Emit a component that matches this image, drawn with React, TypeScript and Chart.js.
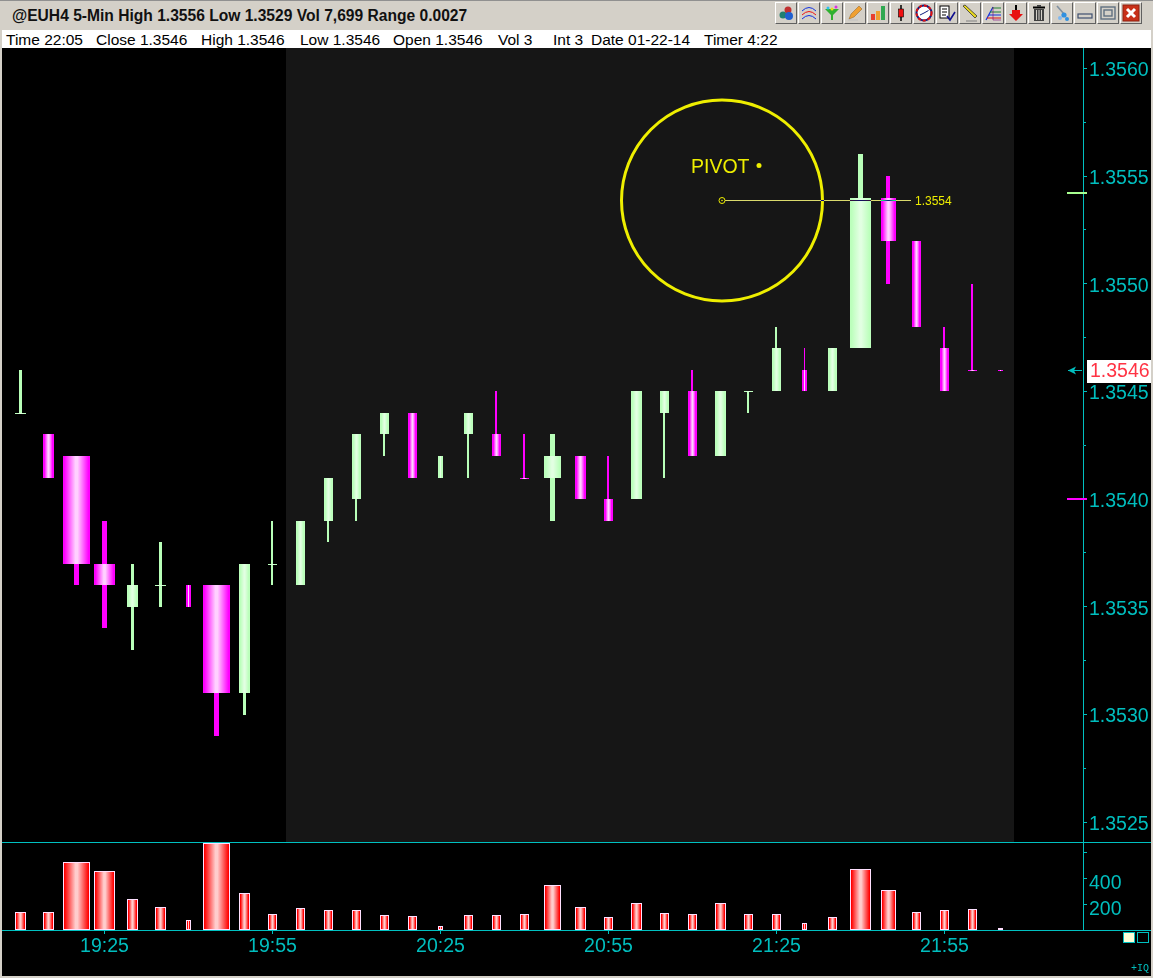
import React, { useEffect, useRef } from "react";
import { Chart, registerables } from "chart.js";

Chart.register(...registerables);

// ---- data ----
const categories = [
  "19:10","19:15","19:20","19:25","19:30","19:35","19:40","19:45","19:50","19:55","20:00","20:05",
  "20:10","20:15","20:20","20:25","20:30","20:35","20:40","20:45","20:50","20:55","21:00","21:05",
  "21:10","21:15","21:20","21:25","21:30","21:35","21:40","21:45","21:50","21:55","22:00","22:05",
];
const opens = [
  1.3544,1.3543,1.3542,1.3537,1.3535,1.3536,1.3536,1.3536,1.3531,1.3537,1.3536,1.3539,
  1.3540,1.3543,1.3544,1.3541,1.3543,1.3543,1.3541,1.3541,1.3542,1.3540,1.3540,1.3544,
  1.3545,1.3542,1.3545,1.3545,1.3546,1.3545,1.3547,1.3554,1.3552,1.3547,1.3546,1.3546,
];
const highs = [
  1.3546,1.3543,1.3542,1.3539,1.3537,1.3538,1.3536,1.3536,1.3537,1.3539,1.3539,1.3541,
  1.3543,1.3544,1.3544,1.3542,1.3544,1.3545,1.3543,1.3543,1.3542,1.3542,1.3545,1.3545,
  1.3546,1.3545,1.3545,1.3548,1.3547,1.3547,1.3556,1.3555,1.3552,1.3548,1.3550,1.3546,
];
const lows = [
  1.3544,1.3541,1.3536,1.3534,1.3533,1.3535,1.3535,1.3529,1.3530,1.3536,1.3536,1.3538,
  1.3539,1.3542,1.3541,1.3541,1.3541,1.3542,1.3541,1.3539,1.3540,1.3539,1.3540,1.3541,
  1.3542,1.3542,1.3544,1.3545,1.3545,1.3545,1.3547,1.3550,1.3548,1.3545,1.3546,1.3546,
];
const closes = [
  1.3544,1.3541,1.3537,1.3536,1.3536,1.3536,1.3535,1.3531,1.3537,1.3537,1.3539,1.3541,
  1.3543,1.3544,1.3541,1.3542,1.3544,1.3542,1.3541,1.3542,1.3540,1.3539,1.3545,1.3545,
  1.3542,1.3545,1.3545,1.3547,1.3545,1.3547,1.3554,1.3552,1.3548,1.3545,1.3546,1.3546,
];
const candleSides = [
  "up","down","down","down","up","up","down","down","up","up","up","up",
  "up","up","down","up","up","down","down","up","down","down","up","up",
  "down","up","up","up","down","up","up","down","down","down","down","down",
];
const volumes = [
  136,136,520,452,236,175,75,667,282,121,167,152,
  152,113,105,28,113,113,123,346,177,100,208,131,
  123,208,123,123,52,98,467,305,136,152,159,13,
];
const priceTickValues = [
  1.356,1.35575,1.3555,1.35525,1.355,1.35475,1.3545,1.35425,1.354,1.35375,1.3535,1.35325,1.353,1.35275,1.3525,
];
const priceTickLabels = [
  "1.3560","","1.3555","","1.3550","","1.3545","","1.3540","","1.3535","","1.3530","","1.3525",
];
const volumeTickValues = [200, 400, 600];
const volumeTickLabels = ["200", "400", ""];
const timeTickIndexes = [3, 9, 15, 21, 27, 33];
const markerLevels = [1.355425, 1.354005];
const lastPrice = 1.3546;
const lastPriceLabel = "1.3546";
const pivotLevel = 1.35539;
const pivotLabel = "1.3554";
const pivotIndex = 25.05;
const pivotEndIndex = 31.8;
const sessionStartIndex = 9.5;
const sessionEndIndex = 35.5;

// ---- styles and layout ----
const bodyWidths = [
  11,11,27,21,11,11,5,27,11,9,9,9,9,9,9,5,9,9,9,17,11,9,11,9,9,11,9,9,5,9,21,15,9,9,9,5,
];
const wickWidth = (w: number) => (w <= 5 ? 1 : w <= 9 ? 2 : w <= 11 ? 3 : w <= 15 ? 4 : 5);
const TEAL = "#00BEBE";
const GREEN_EDGE = "#BCFFBC";
const GREEN_MID = "#E2FFE2";
const MAGENTA = "#FF00FF";
const MAGENTA_MID = "#FFD0FF";
const RED = "#FF0000";
const RED_MID = "#FFCCCC";
const YELLOW = "#EEEE00";
const FONT = '"Liberation Sans", Arial, sans-serif';
const xMin = -18.5 / 28;
const xMax = (1081 - 18.5) / 28;
const FILE_W = 1149;
const PX_PER_UNIT = 215400;
const priceMax = 1.356 + 20.3 / PX_PER_UNIT;
const priceMin = priceMax - 794 / PX_PER_UNIT;

function barGradient(ctx: any, edge: string, mid: string) {
  if (ctx.type !== "data") return edge;
  const chart = ctx.chart;
  const x = chart.scales.x.getPixelForValue(ctx.dataIndex);
  // elements are first resolved before the layout has placed the scales
  if (!Number.isFinite(x)) return edge;
  const width = bodyWidths[ctx.dataIndex];
  const half = width / 2;
  const solid = Math.min(0.4, 1.5 / width);
  const g = chart.ctx.createLinearGradient(x - half, 0, x + half, 0);
  g.addColorStop(0, edge);
  g.addColorStop(solid, edge);
  g.addColorStop(0.46, mid);
  g.addColorStop(0.54, mid);
  g.addColorStop(1 - solid, edge);
  g.addColorStop(1, edge);
  return g;
}

// Every candle and volume bar is as wide as its volume in this kind of chart.
const sizeBars = {
  id: "sizeBars",
  afterDatasetsUpdate(chart: any) {
    chart.data.datasets.forEach((ds: any, di: number) => {
      chart.getDatasetMeta(di).data.forEach((el: any, i: number) => {
        const w = ds.role === "wick" ? wickWidth(bodyWidths[i]) : bodyWidths[i];
        el.width = w;
        el.x = w % 2 === 0 ? Math.floor(el.x) : Math.floor(el.x) + 0.5;
        el.y = Math.round(el.y);
        el.base = Math.round(el.base);
        if (ds.role === "body" && el.base === el.y) el.base = el.y + 1;
      });
    });
  },
};

const session = {
  id: "session",
  beforeDatasetsDraw(chart: any) {
    const { ctx, chartArea, scales } = chart;
    const a = Math.floor(scales.x.getPixelForValue(sessionStartIndex));
    const b = Math.floor(scales.x.getPixelForValue(sessionEndIndex));
    ctx.save();
    ctx.fillStyle = "#161616";
    ctx.fillRect(a, chartArea.top, b - a, chartArea.bottom - chartArea.top);
    ctx.restore();
  },
};

const annotations = {
  id: "annotations",
  afterDatasetsDraw(chart: any) {
    const { ctx, scales } = chart;
    const cx = Math.round(scales.x.getPixelForValue(pivotIndex));
    const cy = Math.round(scales.y.getPixelForValue(pivotLevel)) + 0.5;
    const ex = Math.round(scales.x.getPixelForValue(pivotEndIndex));
    ctx.save();
    // circle
    ctx.strokeStyle = YELLOW;
    ctx.lineWidth = 3;
    ctx.beginPath();
    ctx.arc(cx, cy, 100.5, 0, Math.PI * 2);
    ctx.stroke();
    // trend line, which inverts what lies under it
    ctx.globalCompositeOperation = "difference";
    ctx.strokeStyle = "rgb(240,240,130)";
    ctx.lineWidth = 1;
    ctx.beginPath();
    ctx.moveTo(cx + 3, cy);
    ctx.lineTo(ex, cy);
    ctx.stroke();
    ctx.globalCompositeOperation = "source-over";
    ctx.strokeStyle = YELLOW;
    ctx.beginPath();
    ctx.arc(cx, cy, 3, 0, Math.PI * 2);
    ctx.stroke();
    ctx.fillStyle = YELLOW;
    ctx.beginPath();
    ctx.arc(cx, cy, 0.8, 0, Math.PI * 2);
    ctx.fill();
    // texts
    ctx.textBaseline = "middle";
    ctx.textAlign = "left";
    ctx.font = `19.5px ${FONT}`;
    ctx.fillText("PIVOT", cx - 31, cy - 33);
    ctx.beginPath();
    ctx.arc(cx + 37, cy - 35, 2.5, 0, Math.PI * 2);
    ctx.fill();
    ctx.font = `12px ${FONT}`;
    ctx.fillText(pivotLabel, ex + 4, cy + 1);
    // markers on the axis
    const right = chart.chartArea.right;
    markerLevels.forEach((level, i) => {
      const y = Math.round(scales.y.getPixelForValue(level));
      ctx.fillStyle = i === 0 ? "#A8FF90" : MAGENTA;
      ctx.fillRect(right - 16, y, 20, 2);
    });
    // last price
    const ly = Math.round(scales.y.getPixelForValue(lastPrice));
    ctx.fillStyle = TEAL;
    ctx.beginPath();
    ctx.moveTo(right - 15, ly + 0.5);
    ctx.lineTo(right - 7, ly - 3.5);
    ctx.lineTo(right - 9, ly + 0.5);
    ctx.lineTo(right - 7, ly + 4.5);
    ctx.closePath();
    ctx.fill();
    ctx.fillRect(right - 15, ly, 14, 1);
    ctx.fillStyle = "#FFFFFF";
    ctx.fillRect(right + 4, ly - 10, chart.width - right - 4, 23);
    ctx.fillStyle = "#FF3344";
    ctx.font = `19.5px ${FONT}`;
    ctx.fillText(lastPriceLabel, right + 7, ly + 2);
    ctx.restore();
  },
};

const volumeFrame = {
  id: "volumeFrame",
  afterDraw(chart: any) {
    const { ctx, chartArea } = chart;
    ctx.save();
    ctx.fillStyle = "#00C0C0";
    ctx.fillRect(0, 0, chart.width, 1);
    ctx.fillRect(0, Math.round(chartArea.bottom), chart.width, 1);
    ctx.restore();
  },
};

const sharedX = {
  type: "linear" as const,
  min: xMin,
  max: xMax,
  offset: false,
};

const hideExtras = { legend: { display: false }, tooltip: { enabled: false } };

// The panes sit flush with the window: tick labels may overhang the plot area.
function fitRightAxis(a: any) {
  a.width = FILE_W - 1081;
  a.paddingTop = 0;
  a.paddingBottom = 0;
}

function makePriceChart(canvas: HTMLCanvasElement) {
  const wickData = categories.map((_, i) => ({ x: i, y: [lows[i], highs[i]] }));
  const bodyData = categories.map((_, i) => ({ x: i, y: [opens[i], closes[i]] }));
  return new Chart(canvas, {
    type: "bar",
    data: {
      labels: categories,
      datasets: [
        {
          role: "body",
          order: 1,
          grouped: false,
          data: bodyData,
          inflateAmount: 0,
          borderWidth: 0,
          backgroundColor: (c: any) =>
            candleSides[c.dataIndex] === "up"
              ? barGradient(c, GREEN_EDGE, GREEN_MID)
              : barGradient(c, MAGENTA, MAGENTA_MID),
        } as any,
        {
          role: "wick",
          order: 2,
          grouped: false,
          data: wickData,
          inflateAmount: 0,
          borderWidth: 0,
          backgroundColor: (c: any) => (candleSides[c.dataIndex] === "up" ? "#B8FFB8" : MAGENTA),
        } as any,
      ],
    },
    plugins: [sizeBars, session, annotations],
    options: {
      responsive: false,
      animation: false,
      devicePixelRatio: 1,
      layout: { padding: 0 },
      plugins: hideExtras,
      scales: {
        x: { ...sharedX, display: false, grid: { display: false, offset: false } },
        y: {
          position: "right",
          min: priceMin,
          max: priceMax,
          afterFit: fitRightAxis,
          afterBuildTicks: (a: any) => {
            a.ticks = priceTickValues.map((value) => ({ value }));
          },
          border: { color: "#00C0C0" },
          grid: {
            drawOnChartArea: false,
            tickLength: 4,
            tickColor: "#00C0C0",
            tickBorderDash: (c: any) => (priceTickLabels[c.index] ? [] : [2, 2]),
          },
          ticks: {
            autoSkip: false,
            maxRotation: 0,
            padding: 2,
            labelOffset: 2.5,
            color: TEAL,
            font: { family: FONT, size: 19.5 },
            callback: (_v: any, i: number) => priceTickLabels[i],
          },
        } as any,
      },
    } as any,
  });
}

function makeVolumeChart(canvas: HTMLCanvasElement) {
  const volumeData = categories.map((_, i) => ({ x: i, y: volumes[i] }));
  return new Chart(canvas, {
    type: "bar",
    data: {
      labels: categories,
      datasets: [
        {
          role: "volume",
          grouped: false,
          data: volumeData,
          inflateAmount: 0,
          borderWidth: 1,
          borderSkipped: false,
          borderColor: "#FFE0FF",
          backgroundColor: (c: any) => barGradient(c, RED, RED_MID),
        } as any,
      ],
    },
    plugins: [sizeBars, volumeFrame],
    options: {
      responsive: false,
      animation: false,
      devicePixelRatio: 1,
      layout: { padding: 0 },
      plugins: hideExtras,
      scales: {
        x: {
          ...sharedX,
          position: "bottom",
          afterFit: (a: any) => {
            a.height = 46;
            a.paddingLeft = 0;
            a.paddingRight = 0;
          },
          afterBuildTicks: (a: any) => {
            a.ticks = timeTickIndexes.map((value) => ({ value }));
          },
          border: { display: false },
          grid: { drawOnChartArea: false, offset: false, tickLength: 4, tickColor: "#00C0C0" },
          ticks: {
            autoSkip: false,
            maxRotation: 0,
            padding: 1,
            color: TEAL,
            font: { family: FONT, size: 19.5 },
            callback: (v: any) => categories[v],
          },
        },
        y: {
          position: "right",
          min: 0,
          max: 677,
          afterFit: fitRightAxis,
          afterBuildTicks: (a: any) => {
            a.ticks = volumeTickValues.map((value) => ({ value }));
          },
          border: { color: "#00C0C0" },
          grid: { drawOnChartArea: false, tickLength: 4, tickColor: "#00C0C0" },
          ticks: {
            autoSkip: false,
            maxRotation: 0,
            padding: 2,
            labelOffset: 6,
            color: TEAL,
            font: { family: FONT, size: 19.5 },
            callback: (_v: any, i: number) => volumeTickLabels[i],
          },
        },
      },
    } as any,
  });
}

// ---- window furniture ----
const statusItems = [
  "Time 22:05",
  "Close 1.3546",
  "High 1.3546",
  "Low 1.3546",
  "Open 1.3546",
  "Vol 3",
  "Int 3",
  "Date 01-22-14",
  "Timer 4:22",
];
const statusLefts = [6, 96, 201, 300, 393, 498, 553, 591, 704];

const icons: React.ReactNode[] = [
  <g key="0">
    <circle cx="11" cy="6" r="3.5" fill="#C03030" />
    <circle cx="6" cy="11" r="3.5" fill="#208070" />
    <circle cx="12" cy="12" r="4" fill="#2060D0" />
  </g>,
  <g key="1" fill="none" strokeWidth="1">
    <path d="M2 7Q9 0 16 7" stroke="#1030E0" />
    <path d="M2 11Q9 4 16 11" stroke="#F01010" />
    <path d="M2 15Q9 8 16 15" stroke="#1030E0" />
  </g>,
  <g key="2">
    <path d="M2 5H16L10 11V16H8V11Z" fill="#30B030" />
    <circle cx="5" cy="4" r="1.5" fill="#30C0F0" />
    <circle cx="13" cy="3" r="1.5" fill="#E030E0" />
    <circle cx="9" cy="5" r="1.5" fill="#E8E020" />
  </g>,
  <g key="3">
    <path d="M3 15L5 10L13 2L16 5L8 13Z" fill="#F0A030" stroke="#906020" strokeWidth="0.5" />
    <path d="M2 16H12" stroke="#C0C0C0" />
  </g>,
  <g key="4">
    <rect x="2" y="10" width="4" height="6" fill="#E84030" />
    <rect x="7" y="7" width="4" height="9" fill="#F0A030" />
    <rect x="12" y="2" width="4" height="14" fill="#30A850" />
  </g>,
  <g key="5">
    <path d="M9 1V17" stroke="#000" strokeWidth="1.5" />
    <rect x="6.5" y="5" width="5" height="8" fill="#F01010" stroke="#000" strokeWidth="0.6" />
  </g>,
  <g key="6">
    <circle cx="9" cy="9" r="7.5" fill="#FFF" stroke="#102080" strokeWidth="2" />
    <circle cx="9" cy="9" r="7.5" fill="none" stroke="#E01010" strokeWidth="2" strokeDasharray="3 2" />
    <path d="M9 9L13.5 6.5M9 9L5 11" stroke="#102080" strokeWidth="1" />
  </g>,
  <g key="7">
    <rect x="2" y="2" width="9" height="12" fill="#FFF" stroke="#000" />
    <path d="M4 5H9M4 8H9M4 11H8" stroke="#000" />
    <path d="M9 12L12 16L17 8" fill="none" stroke="#101090" strokeWidth="1.6" />
  </g>,
  <g key="8">
    <path d="M2 2L14 14L16 12L4 1Z" fill="#E8D820" stroke="#202020" strokeWidth="0.7" />
    <path d="M5 17H16" stroke="#808080" />
  </g>,
  <g key="9" fill="none">
    <path d="M2 16L9 3" stroke="#1030E0" strokeWidth="1.2" />
    <path d="M8 4H17M6 8H17" stroke="#208030" />
    <path d="M5 11H17" stroke="#1030E0" />
    <path d="M3 14H17" stroke="#E01010" />
    <path d="M9 3V16H17" stroke="#800080" strokeWidth="0.6" />
  </g>,
  <g key="10">
    <path d="M9 1V6" stroke="#000" strokeWidth="2" />
    <path d="M5 6H13V10H16L9 17L2 10H5Z" fill="#E81010" />
  </g>,
  <g key="11">
    <rect x="4" y="5" width="10" height="12" fill="#404040" />
    <path d="M6.5 6V16M9 6V16M11.5 6V16" stroke="#D4D0C8" />
    <rect x="3" y="2.5" width="12" height="2" fill="#000" />
    <rect x="7" y="1" width="4" height="2" fill="#404040" />
  </g>,
  <g key="12">
    <path d="M4 2L11 10" stroke="#8090A0" strokeWidth="1.6" />
    <circle cx="11" cy="11" r="2.6" fill="#3090E0" />
    <circle cx="7" cy="14" r="2" fill="#80B8F0" />
    <circle cx="14" cy="15" r="2" fill="#3090E0" />
  </g>,
  <rect key="13" x="2" y="10" width="14" height="4" fill="#D4D0C8" stroke="#405070" strokeWidth="1.2" />,
  <g key="14" fill="none" stroke="#607080" strokeWidth="1.4">
    <rect x="2" y="3" width="14" height="12" />
    <rect x="5" y="6" width="8" height="6" />
  </g>,
  <g key="15">
    <rect x="1" y="1" width="16" height="16" fill="#C83018" stroke="#902010" />
    <path d="M5 5L13 13M13 5L5 13" stroke="#FFF" strokeWidth="3" />
  </g>,
];

export default function App() {
  const priceRef = useRef<HTMLCanvasElement>(null);
  const volumeRef = useRef<HTMLCanvasElement>(null);

  useEffect(() => {
    const price = makePriceChart(priceRef.current!);
    const volume = makeVolumeChart(volumeRef.current!);
    return () => {
      price.destroy();
      volume.destroy();
    };
  }, []);

  return (
    <div style={{ position: "relative", width: 1153, height: 978, overflow: "hidden", background: "#D4D0C8" }}>
      <style>{"html,body{margin:0;padding:0;overflow:hidden;background:#D4D0C8}"}</style>
      <div style={{ position: "absolute", left: 0, top: 0, width: 1153, height: 1, background: "#909090" }} />
      <div
        style={{
          position: "absolute",
          left: 12,
          top: 7,
          font: `bold 15.6px ${FONT}`,
          color: "#111",
          whiteSpace: "nowrap",
        }}
      >
        @EUH4 5-Min High 1.3556 Low 1.3529 Vol 7,699 Range 0.0027
      </div>
      {icons.map((icon, k) => (
        <div
          key={k}
          style={{
            position: "absolute",
            left: 775 + 23 * k,
            top: 2,
            width: 22,
            height: 22,
            boxSizing: "border-box",
            background: "#D4D0C8",
            borderTop: "1px solid #FFF",
            borderLeft: "1px solid #FFF",
            borderRight: "1px solid #606060",
            borderBottom: "1px solid #606060",
          }}
        >
          <svg width="20" height="20" viewBox="-1 -1 20 20" style={{ display: "block" }}>
            {icon}
          </svg>
        </div>
      ))}
      <div style={{ position: "absolute", left: 2, top: 30, width: 1149, height: 18, background: "#FFF" }} />
      {statusItems.map((text, i) => (
        <div
          key={text}
          style={{
            position: "absolute",
            left: statusLefts[i],
            top: 31,
            font: `15.5px ${FONT}`,
            color: "#000",
            whiteSpace: "nowrap",
          }}
        >
          {text}
        </div>
      ))}
      <canvas
        ref={priceRef}
        width={FILE_W}
        height={794}
        style={{ position: "absolute", left: 2, top: 48, width: FILE_W, height: 794, background: "#000" }}
      />
      <canvas
        ref={volumeRef}
        width={FILE_W}
        height={134}
        style={{ position: "absolute", left: 2, top: 842, width: FILE_W, height: 134, background: "#000" }}
      />
      <div
        style={{
          position: "absolute",
          left: 1123,
          top: 932,
          width: 12,
          height: 11,
          boxSizing: "border-box",
          background: "#FFFFD8",
          border: "1px solid #00C0C0",
        }}
      />
      <div
        style={{
          position: "absolute",
          left: 1137,
          top: 932,
          width: 12,
          height: 11,
          boxSizing: "border-box",
          border: "1px solid #00C0C0",
        }}
      />
      <div
        style={{
          position: "absolute",
          left: 1131,
          top: 963,
          font: '10px "Liberation Mono", monospace',
          color: TEAL,
          whiteSpace: "nowrap",
        }}
      >
        +IQ
      </div>
    </div>
  );
}
